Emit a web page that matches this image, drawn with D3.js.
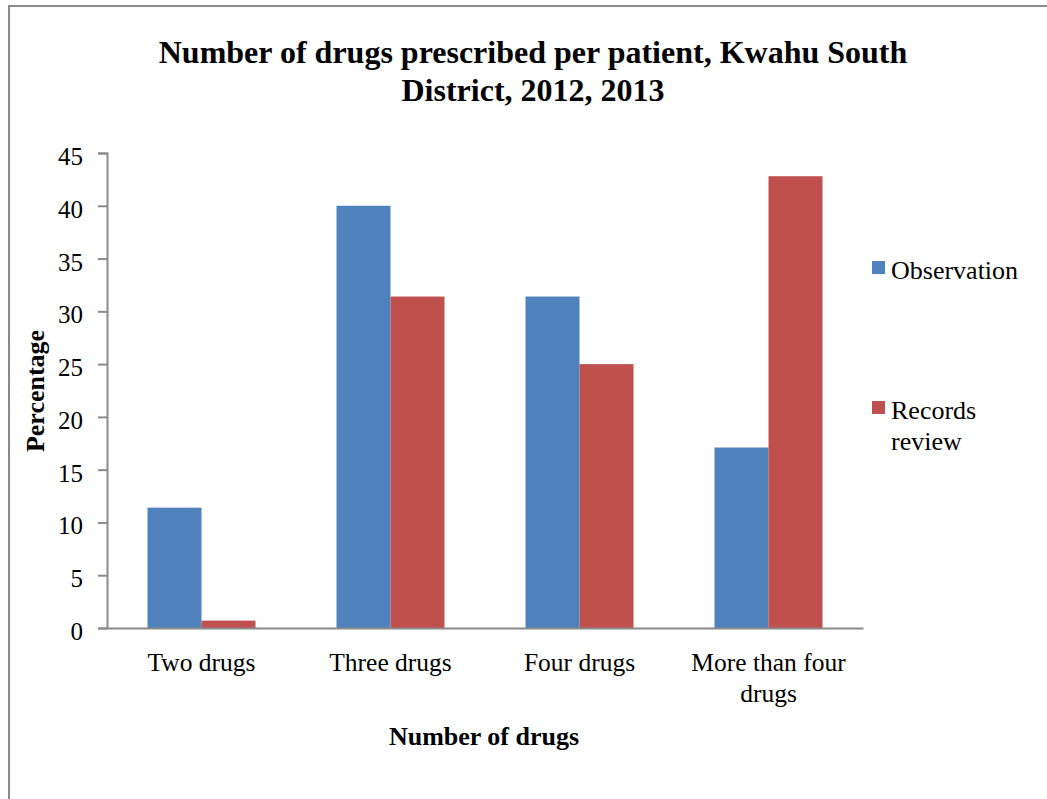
<!DOCTYPE html>
<html>
<head>
<meta charset="utf-8">
<script src="https://cdn.jsdelivr.net/npm/d3@7"></script>
<style>
  html, body { margin: 0; padding: 0; background: #ffffff; }
  svg { display: block; }
  text { font-family: "Liberation Serif", "Times New Roman", serif; fill: #000; }
</style>
</head>
<body>
<svg id="chart" width="1047" height="799"></svg>
<script>
// Number of drugs per patient: share of patients (%) by data source
const categories = ["Two drugs", "Three drugs", "Four drugs", "More than four drugs"];
const seriesNames = ["Observation", "Records review"];
const observation = [11.4, 40.0, 31.4, 17.1];
const recordsReview = [0.7, 31.4, 25.0, 42.8];
const yTicks = [0, 5, 10, 15, 20, 25, 30, 35, 40, 45];
const colors = ["#4F81BD", "#C0504D"];

const svg = d3.select("#chart");

// outer frame (left and top edges show inside the view)
svg.append("rect")
  .attr("x", 9).attr("y", 6)
  .attr("width", 1200).attr("height", 1000)
  .attr("fill", "none").attr("stroke", "#8a8a8a").attr("stroke-width", 2);

const plot = { left: 107, right: 863, top: 153, bottom: 628 };

const x = d3.scaleBand()
  .domain(categories)
  .range([plot.left, plot.right])
  .paddingInner(0.4286)
  .paddingOuter(0.2143);

const xSeries = d3.scaleBand()
  .domain(seriesNames)
  .range([0, x.bandwidth()]);

const y = d3.scaleLinear().domain([0, 45]).range([plot.bottom, plot.top]);

// title
const title = svg.append("text")
  .attr("text-anchor", "middle")
  .style("font-weight", "bold")
  .style("font-size", "32px");
title.append("tspan").attr("x", 533).attr("y", 63).text("Number of drugs prescribed per patient, Kwahu South");
title.append("tspan").attr("x", 533).attr("y", 101).text("District, 2012, 2013");

// bars
const rows = categories.map((c, i) => ({ category: c, values: [observation[i], recordsReview[i]] }));
const groups = svg.append("g").selectAll("g")
  .data(rows).join("g")
  .attr("transform", d => `translate(${x(d.category)},0)`);
groups.selectAll("rect")
  .data(d => d.values.map((v, j) => ({ name: seriesNames[j], value: v, color: colors[j] })))
  .join("rect")
  .attr("x", d => xSeries(d.name))
  .attr("width", xSeries.bandwidth())
  .attr("y", d => y(d.value))
  .attr("height", d => y(0) - y(d.value))
  .attr("fill", d => d.color);

// y axis
const yAxis = svg.append("g")
  .attr("transform", `translate(${plot.left},0)`)
  .call(d3.axisLeft(y).tickValues(yTicks).tickSize(9).tickPadding(15).tickSizeOuter(9));
yAxis.attr("font-family", null).attr("font-size", null);
yAxis.select(".domain").attr("stroke", "#8a8a8a").attr("stroke-width", 2);
yAxis.selectAll(".tick line").attr("stroke", "#8a8a8a").attr("stroke-width", 2);
yAxis.selectAll(".tick text")
  .attr("dy", "0.46em")
  .style("font-family", "'Liberation Serif', 'Times New Roman', serif")
  .style("font-size", "25px")
  .attr("fill", "#000");

// x axis line
const xAxis = svg.append("g")
  .attr("transform", `translate(0,${plot.bottom})`)
  .call(d3.axisBottom(x).tickSize(0).tickSizeOuter(0).tickFormat(""));
xAxis.select(".domain").attr("stroke", "#8a8a8a").attr("stroke-width", 2);
xAxis.selectAll(".tick text").remove();

// category labels (wrapped like the original)
const catLines = {
  "Two drugs": ["Two drugs"],
  "Three drugs": ["Three drugs"],
  "Four drugs": ["Four drugs"],
  "More than four drugs": ["More than four", "drugs"]
};
const catLabels = svg.append("g").selectAll("text")
  .data(categories).join("text")
  .attr("text-anchor", "middle")
  .style("font-size", "25.5px");
catLabels.each(function (c) {
  const t = d3.select(this);
  catLines[c].forEach((line, k) => {
    t.append("tspan")
      .attr("x", x(c) + x.bandwidth() / 2)
      .attr("y", 671 + k * 31)
      .text(line);
  });
});

// axis titles
svg.append("text")
  .attr("x", (plot.left + plot.right) / 2 - 1)
  .attr("y", 745)
  .attr("text-anchor", "middle")
  .style("font-weight", "bold")
  .style("font-size", "26px")
  .text("Number of drugs");

svg.append("text")
  .attr("transform", "translate(44,391) rotate(-90)")
  .attr("text-anchor", "middle")
  .style("font-weight", "bold")
  .style("font-size", "26px")
  .text("Percentage");

// legend
const legendItems = [
  { name: seriesNames[0], lines: ["Observation"], color: colors[0], y: 261 },
  { name: seriesNames[1], lines: ["Records", "review"], color: colors[1], y: 401 }
];
const legend = svg.append("g").selectAll("g")
  .data(legendItems).join("g");
legend.append("rect")
  .attr("x", 872).attr("y", d => d.y)
  .attr("width", 13).attr("height", 13)
  .attr("fill", d => d.color);
legend.append("text")
  .style("font-size", "26px")
  .each(function (d) {
    const t = d3.select(this);
    d.lines.forEach((line, k) => {
      t.append("tspan").attr("x", 891).attr("y", d.y + 18 + k * 31).text(line);
    });
  });
</script>
</body>
</html>
